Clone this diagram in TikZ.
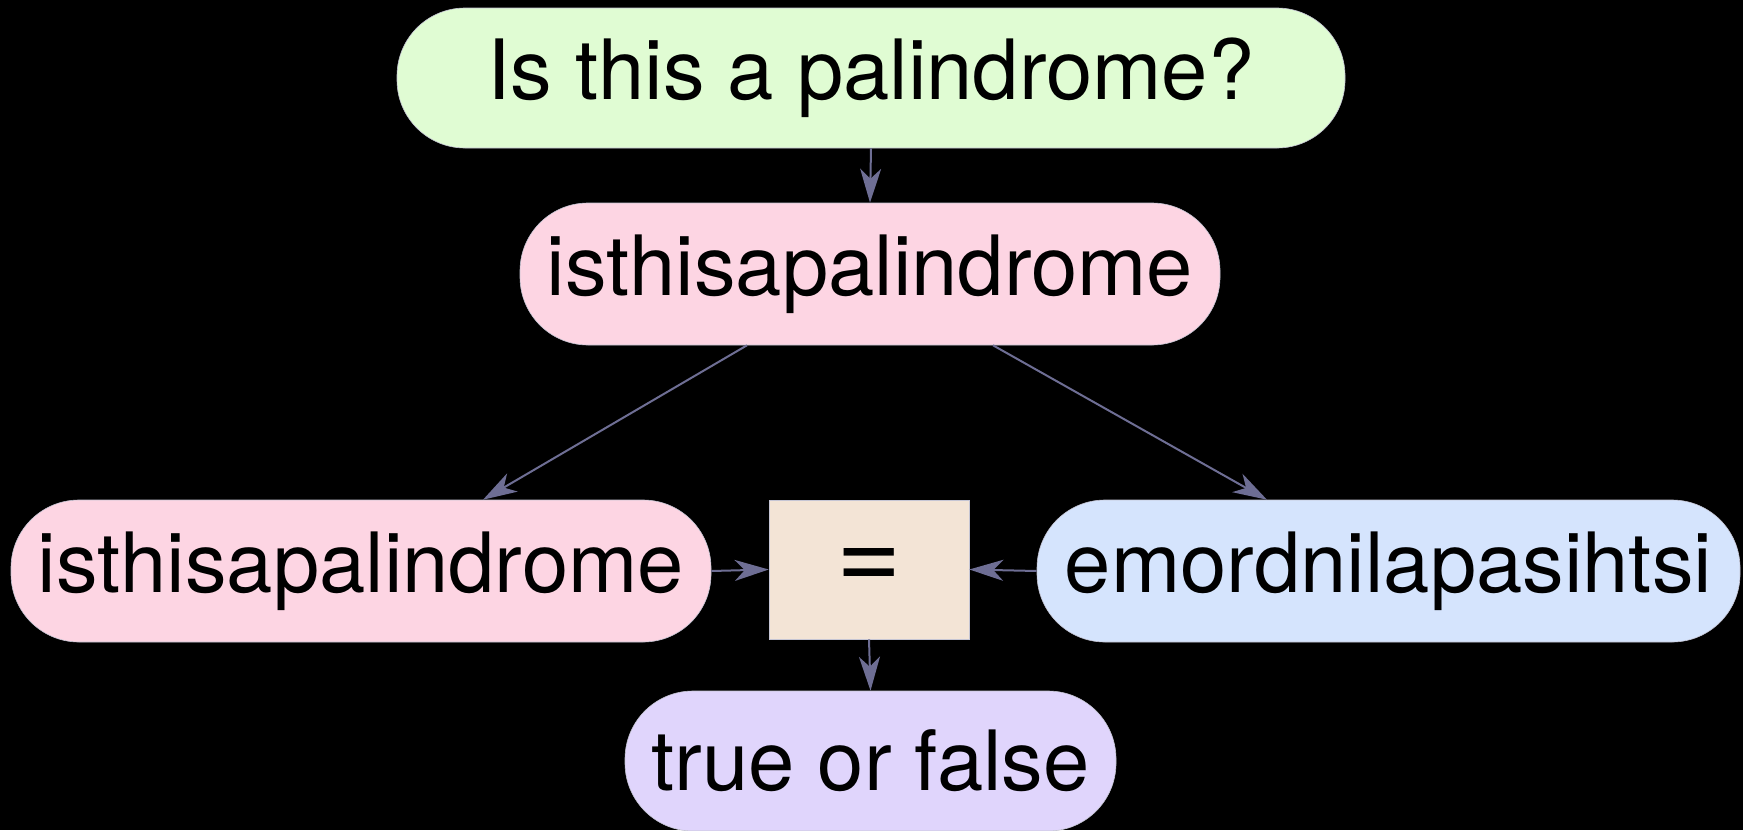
\documentclass[tikz,border=0pt]{standalone}
\usepackage{fontspec}
\setmainfont{TeX Gyre Heros}
\usetikzlibrary{arrows.meta}
\definecolor{cgreen}{HTML}{E0FCD3}
\definecolor{cpink}{HTML}{FDD5E3}
\definecolor{cblue}{HTML}{D5E4FD}
\definecolor{cbeige}{HTML}{F3E4D6}
\definecolor{clav}{HTML}{E0D5FC}
\definecolor{cedge}{HTML}{6E6E94}
\tikzset{
  x=0.5pt, y=-0.5pt,
  pill/.style={draw=cedge!40, line width=0.3pt, rounded corners=34pt, inner sep=0pt,
    font=\fontsize{41.6}{50}\selectfont, text=black},
  sqbox/.style={draw=cedge!40, line width=0.3pt, inner sep=0pt,
    font=\fontsize{56}{60}\selectfont, text=black},
  conn/.style={draw=cedge, line width=1pt, -{Stealth[length=17pt,width=10.5pt,inset=5pt]}},
}
\begin{document}
\begin{tikzpicture}
\useasboundingbox (0,0) rectangle (1743,830);
\fill[black] (0,0) rectangle (1743,830);
\node[pill, fill=cgreen, minimum width=474pt, minimum height=70pt] (top) at (871,78) {Is this a palindrome?};
\node[pill, fill=cpink, minimum width=350pt, minimum height=71pt] (mid) at (870,274) {isthisapalindrome};
\node[pill, fill=cpink, minimum width=350pt, minimum height=71pt] (left) at (361,571) {isthisapalindrome};
\node[sqbox, fill=cbeige, minimum width=100pt, minimum height=69.5pt] (eq) at (869,569.5) {=};
\node[pill, fill=cblue, minimum width=351.5pt, minimum height=71pt] (right) at (1388.5,571) {emordnilapasihtsi};
\node[pill, fill=clav, minimum width=245.5pt, minimum height=70pt] (bot) at (870.5,761) {true or false};
\draw[conn] (top.south) -- (mid.north);
\draw[conn] ([xshift=-61.5pt]mid.south) -- ([xshift=61pt]left.north);
\draw[conn] ([xshift=61.5pt]mid.south) -- ([xshift=-60.75pt]right.north);
\draw[conn] (left.east) -- (eq.west);
\draw[conn] (right.west) -- (eq.east);
\draw[conn] (eq.south) -- (bot.north);
\end{tikzpicture}
\end{document}
